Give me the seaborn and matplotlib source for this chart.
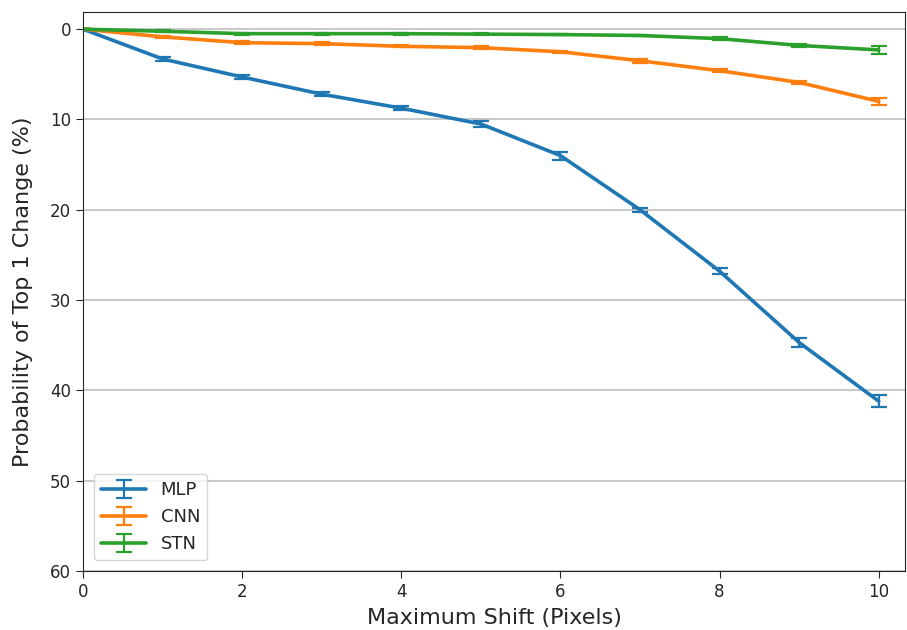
import numpy as np
import matplotlib
matplotlib.use("Agg")
import matplotlib.pyplot as plt
import seaborn as sns

shifts = [0, 1, 2, 3, 4, 5, 6, 7, 8, 9, 10]
mlp = [0.0, 3.3, 5.3, 7.2, 8.75, 10.5, 14.0, 20.0, 26.8, 34.7, 41.2]
mlp_err = [0.0, 0.2, 0.2, 0.25, 0.2, 0.3, 0.45, 0.2, 0.3, 0.5, 0.65]
cnn = [0.0, 0.85, 1.5, 1.6, 1.9, 2.05, 2.5, 3.5, 4.6, 5.9, 8.0]
cnn_err = [0.0, 0.1, 0.15, 0.15, 0.1, 0.15, 0.1, 0.2, 0.15, 0.2, 0.4]
stn = [0.0, 0.23, 0.5, 0.5, 0.5, 0.55, 0.6, 0.7, 1.05, 1.8, 2.3]
stn_err = [0.0, 0.1, 0.1, 0.1, 0.1, 0.1, 0.1, 0.1, 0.15, 0.2, 0.4]
names = ["MLP", "CNN", "STN"]

sns.set_style("ticks")
plt.rcParams['font.family'] = ['DejaVu Sans']
palette = sns.color_palette("tab10", 3)

fig, ax = plt.subplots(figsize=(9.07, 6.3), dpi=100)
fig.subplots_adjust(left=83/907, right=905/907, top=1-12/630, bottom=1-571/630)

for name, vals, errs, c in zip(names, [mlp, cnn, stn], [mlp_err, cnn_err, stn_err], palette):
    ax.errorbar(shifts, vals, yerr=errs, color=c, lw=2.6, capsize=6, capthick=1.6,
                elinewidth=1.6, label=name)

ax.set_xlim(0, 10.33)
ax.set_ylim(60, -1.9)
ax.set_yticks([0, 10, 20, 30, 40, 50, 60])
ax.set_xticks([0, 2, 4, 6, 8, 10])
ax.yaxis.grid(True, color="#c0c0c0", lw=1.2)
ax.set_axisbelow(True)
ax.tick_params(labelsize=12, colors="#262626", length=5)
for s in ax.spines.values():
    s.set_color("#262626")
    s.set_visible(True)
ax.set_xlabel("Maximum Shift (Pixels)", fontsize=16, color="#262626", labelpad=5)
ax.set_ylabel("Probability of Top 1 Change (%)", fontsize=16, color="#262626", labelpad=12)
ax.legend(loc="lower left", fontsize=13, handlelength=2.5, borderaxespad=0.6)

fig.savefig("out.png", dpi=100)
